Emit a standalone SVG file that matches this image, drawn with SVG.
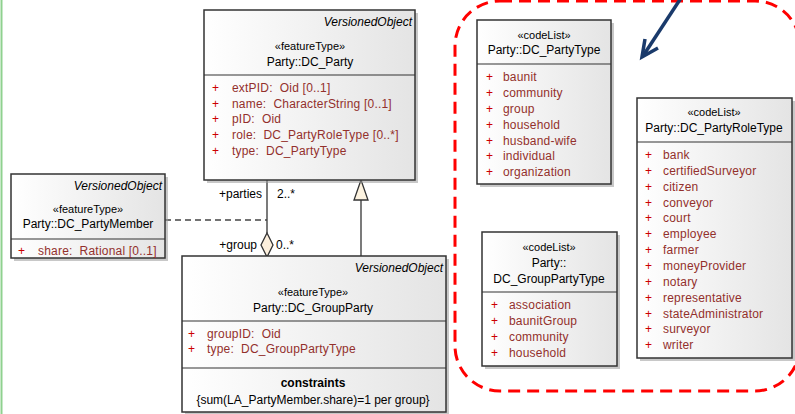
<svg xmlns="http://www.w3.org/2000/svg" width="795" height="414" viewBox="0 0 795 414">
<defs>
<linearGradient id="boxfill" x1="0" y1="0" x2="1" y2="0">
<stop offset="0" stop-color="#ffffff"/>
<stop offset="1" stop-color="#e4e4e4"/>
</linearGradient>
<style>
.box{fill:url(#boxfill);stroke:#333;stroke-width:1.5}
.shadow{fill:#9a9a9a;opacity:0.55}
.sep{stroke:#333;stroke-width:1.2}
text{font-family:"Liberation Sans",Arial,sans-serif;font-size:12px;fill:#000;white-space:pre}
.it{font-style:italic;text-anchor:end}
.st{font-size:11px;text-anchor:middle}
.nm{text-anchor:middle}
.pl{fill:#cc0000}
.at{fill:#93302c;letter-spacing:0.2px}
.bold{font-weight:bold;text-anchor:middle}
.line{stroke:#333;stroke-width:1.3;fill:none}
</style>
</defs>
<rect width="795" height="414" fill="#ffffff"/>
<line x1="1.5" y1="0" x2="1.5" y2="414" stroke="#8fd18f" stroke-width="2"/>

<g id="highlight">
<rect x="455" y="1" width="345" height="390" rx="45" fill="none" stroke="#ff0000" stroke-width="3" stroke-dasharray="12 7"/>
<line x1="681" y1="-2" x2="643" y2="56" stroke="#1a3a6b" stroke-width="3.5"/>
<polyline points="645,39 642,57 658,48" fill="none" stroke="#1a3a6b" stroke-width="3.5"/>
</g>

<g id="connectors">
<line class="line" x1="267" y1="180" x2="267" y2="233"/>
<polygon points="267,233 273,245 267,257 261,245" fill="#fcefdc" stroke="#333" stroke-width="1.3"/>
<line x1="165" y1="220" x2="267" y2="220" stroke="#444" stroke-width="1.3" stroke-dasharray="6 4"/>
<line class="line" x1="361" y1="257" x2="361" y2="200"/>
<polygon points="361,180 368,200 354,200" fill="#fdf3e0" stroke="#333" stroke-width="1.3"/>
<text x="262" y="198" text-anchor="end">+parties</text>
<text x="277" y="198">2..*</text>
<text x="257" y="249" text-anchor="end">+group</text>
<text x="276" y="249">0..*</text>
</g>

<g id="DC_Party">
<rect class="shadow" x="207" y="13" width="211" height="170"/>
<rect class="box" x="204" y="10" width="211" height="170"/>
<line class="sep" x1="204" y1="75" x2="415" y2="75"/>
<text class="it" x="412" y="26">VersionedObject</text>
<text class="st" x="310" y="50">«featureType»</text>
<text class="nm" x="310" y="66">Party::DC_Party</text>
<text class="pl" x="212" y="92">+</text><text class="at" x="232" y="92">extPID:  Oid [0..1]</text>
<text class="pl" x="212" y="108">+</text><text class="at" x="232" y="108">name:  CharacterString [0..1]</text>
<text class="pl" x="212" y="123">+</text><text class="at" x="232" y="123">pID:  Oid</text>
<text class="pl" x="212" y="139">+</text><text class="at" x="232" y="139">role:  DC_PartyRoleType [0..*]</text>
<text class="pl" x="212" y="155">+</text><text class="at" x="232" y="155">type:  DC_PartyType</text>
</g>

<g id="DC_PartyMember">
<rect class="shadow" x="14" y="177" width="154" height="84"/>
<rect class="box" x="11" y="174" width="154" height="84"/>
<line class="sep" x1="11" y1="239" x2="165" y2="239"/>
<text class="it" x="162" y="190">VersionedObject</text>
<text class="st" x="88" y="213">«featureType»</text>
<text class="nm" x="88" y="228">Party::DC_PartyMember</text>
<text class="pl" x="18" y="255">+</text><text class="at" x="38" y="255">share:  Rational [0..1]</text>
</g>

<g id="DC_GroupParty">
<rect class="shadow" x="185" y="259" width="264" height="156"/>
<rect class="box" x="182" y="256" width="264" height="156"/>
<line class="sep" x1="182" y1="321" x2="446" y2="321"/>
<line class="sep" x1="182" y1="368" x2="446" y2="368"/>
<text class="it" x="443" y="272">VersionedObject</text>
<text class="st" x="313" y="296">«featureType»</text>
<text class="nm" x="313" y="312">Party::DC_GroupParty</text>
<text class="pl" x="188" y="338">+</text><text class="at" x="207" y="338">groupID:  Oid</text>
<text class="pl" x="188" y="353">+</text><text class="at" x="207" y="353">type:  DC_GroupPartyType</text>
<text class="bold" x="313" y="387">constraints</text>
<text class="nm" x="313" y="404">{sum(LA_PartyMember.share)=1 per group}</text>
</g>

<g id="DC_PartyType">
<rect class="shadow" x="480" y="23" width="134" height="164"/>
<rect class="box" x="477" y="20" width="134" height="164"/>
<line class="sep" x1="477" y1="64" x2="611" y2="64"/>
<text class="st" x="544" y="39">«codeList»</text>
<text class="nm" x="544" y="54">Party::DC_PartyType</text>
<text class="pl" x="486" y="81">+</text><text class="at" x="503" y="81">baunit</text>
<text class="pl" x="486" y="97">+</text><text class="at" x="503" y="97">community</text>
<text class="pl" x="486" y="113">+</text><text class="at" x="503" y="113">group</text>
<text class="pl" x="486" y="129">+</text><text class="at" x="503" y="129">household</text>
<text class="pl" x="486" y="145">+</text><text class="at" x="503" y="145">husband-wife</text>
<text class="pl" x="486" y="160">+</text><text class="at" x="503" y="160">individual</text>
<text class="pl" x="486" y="176">+</text><text class="at" x="503" y="176">organization</text>
</g>

<g id="DC_GroupPartyType">
<rect class="shadow" x="485" y="235" width="135" height="134"/>
<rect class="box" x="482" y="232" width="135" height="134"/>
<line class="sep" x1="482" y1="292" x2="617" y2="292"/>
<text class="st" x="549" y="251">«codeList»</text>
<text class="nm" x="549" y="267">Party::</text>
<text class="nm" x="549" y="283">DC_GroupPartyType</text>
<text class="pl" x="491" y="309">+</text><text class="at" x="509" y="309">association</text>
<text class="pl" x="491" y="325">+</text><text class="at" x="509" y="325">baunitGroup</text>
<text class="pl" x="491" y="341">+</text><text class="at" x="509" y="341">community</text>
<text class="pl" x="491" y="357">+</text><text class="at" x="509" y="357">household</text>
</g>

<g id="DC_PartyRoleType">
<rect class="shadow" x="640" y="101" width="155" height="260"/>
<rect class="box" x="637" y="98" width="155" height="260"/>
<line class="sep" x1="637" y1="142" x2="792" y2="142"/>
<text class="st" x="714" y="116">«codeList»</text>
<text class="nm" x="714" y="132">Party::DC_PartyRoleType</text>
<text class="pl" x="645" y="159">+</text><text class="at" x="663" y="159">bank</text>
<text class="pl" x="645" y="175">+</text><text class="at" x="663" y="175">certifiedSurveyor</text>
<text class="pl" x="645" y="191">+</text><text class="at" x="663" y="191">citizen</text>
<text class="pl" x="645" y="207">+</text><text class="at" x="663" y="207">conveyor</text>
<text class="pl" x="645" y="222">+</text><text class="at" x="663" y="222">court</text>
<text class="pl" x="645" y="238">+</text><text class="at" x="663" y="238">employee</text>
<text class="pl" x="645" y="254">+</text><text class="at" x="663" y="254">farmer</text>
<text class="pl" x="645" y="270">+</text><text class="at" x="663" y="270">moneyProvider</text>
<text class="pl" x="645" y="286">+</text><text class="at" x="663" y="286">notary</text>
<text class="pl" x="645" y="302">+</text><text class="at" x="663" y="302">representative</text>
<text class="pl" x="645" y="318">+</text><text class="at" x="663" y="318">stateAdministrator</text>
<text class="pl" x="645" y="333">+</text><text class="at" x="663" y="333">surveyor</text>
<text class="pl" x="645" y="349">+</text><text class="at" x="663" y="349">writer</text>
</g>
</svg>
